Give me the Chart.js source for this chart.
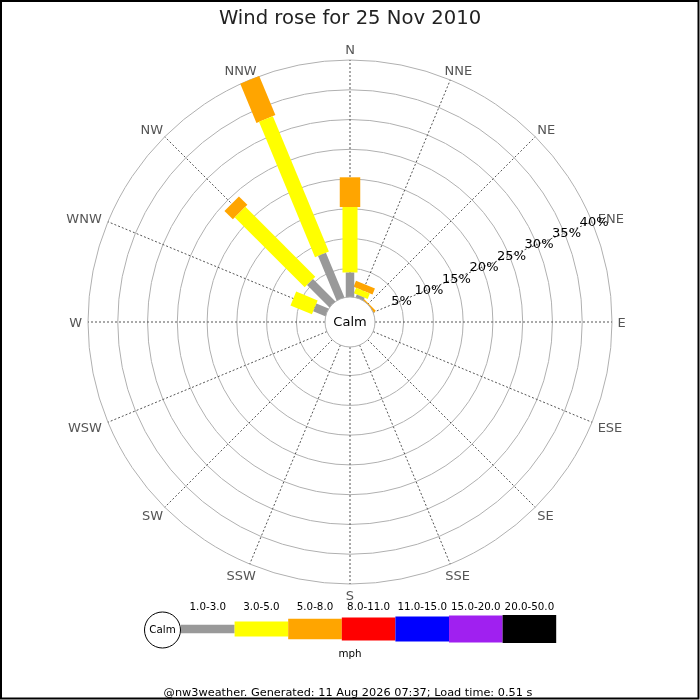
<!DOCTYPE html>
<html>
<head>
<meta charset="utf-8">
<script src="https://cdn.jsdelivr.net/npm/chart.js@4.4.1/dist/chart.umd.min.js"></script>
<style>
  html, body { margin: 0; padding: 0; background: #fff; }
  #wrap { width: 700px; height: 700px; position: relative; }
</style>
</head>
<body>
<div id="wrap"><canvas id="rose"></canvas></div>
<script>
// 16 compass directions, clockwise from north
const directions = ['N','NNE','NE','ENE','E','ESE','SE','SSE','S','SSW','SW','WSW','W','WNW','NW','NNW'];
const speedBins = ['1.0-3.0','3.0-5.0','5.0-8.0','8.0-11.0','11.0-15.0','15.0-20.0','20.0-50.0'];

// % of time per direction, one array per speed bin (mph)
const pct1to3   = [4.3, 0.7, 0,   0, 0, 0, 0, 0, 0, 0, 0, 0, 0, 2.4, 5.5,  8.3];
const pct3to5   = [11.0, 1.0, 0,  0, 0, 0, 0, 0, 0, 0, 0, 0, 0, 3.9, 16.6, 24.6];
const pct5to8   = [5.0, 1.1, 0.4, 0, 0, 0, 0, 0, 0, 0, 0, 0, 0, 0,   2.0,  7.1];
const pct8to11  = [0,   0,   0,   0, 0, 0, 0, 0, 0, 0, 0, 0, 0, 0,   0,    0];
const pct11to15 = [0,   0,   0,   0, 0, 0, 0, 0, 0, 0, 0, 0, 0, 0,   0,    0];
const pct15to20 = [0,   0,   0,   0, 0, 0, 0, 0, 0, 0, 0, 0, 0, 0,   0,    0];
const pct20to50 = [0,   0,   0,   0, 0, 0, 0, 0, 0, 0, 0, 0, 0, 0,   0,    0];

const ringTicks = [5, 10, 15, 20, 25, 30, 35, 40];

const titleText = 'Wind rose for 25 Nov 2010';
const footerText = '@nw3weather. Generated: 11 Aug 2026 07:37; Load time: 0.51 s';

// styles
const binColors = ['#999999', '#ffff00', '#ffa500', '#ff0000', '#0000ff', '#a020f0', '#000000'];
const binWidths = [8.5, 15, 20.5, 23, 25, 27, 28];
const holeRadius = 4;      // empty centre, in % units
const calmPx = 25;
const FONT = 'DejaVu Sans';

const binSeries = [pct1to3, pct3to5, pct5to8, pct8to11, pct11to15, pct15to20, pct20to50];
const outer = holeRadius + ringTicks[ringTicks.length - 1];

function polar(dirIndex, pct) {
  const a = dirIndex * Math.PI / 8;
  const r = holeRadius + pct;
  return { x: r * Math.sin(a), y: r * Math.cos(a) };
}

// each bar segment is a 2-point line, stacked outward by speed bin
const datasets = [];
binSeries.forEach((series, b) => {
  series.forEach((v, d) => {
    if (!v) return;
    let start = 0;
    for (let k = 0; k < b; k++) start += binSeries[k][d];
    datasets.push({
      label: speedBins[b] + ' ' + directions[d],
      data: [polar(d, start), polar(d, start + v)],
      showLine: true,
      borderColor: binColors[b],
      borderWidth: binWidths[b],
      borderCapStyle: 'butt',
      pointRadius: 0
    });
  });
});

const roseGrid = {
  id: 'roseGrid',
  beforeDatasetsDraw(chart) {
    const { ctx, scales: { x, y } } = chart;
    const cx = x.getPixelForValue(0), cy = y.getPixelForValue(0);
    const rad = v => x.getPixelForValue(holeRadius + v) - cx;
    ctx.save();
    ctx.lineWidth = 1;
    ctx.strokeStyle = '#b0b0b0';
    ringTicks.forEach(t => {
      ctx.beginPath();
      ctx.arc(cx, cy, rad(t), 0, Math.PI * 2);
      ctx.stroke();
    });
    ctx.setLineDash([2, 2]);
    ctx.strokeStyle = '#555';
    const rOut = rad(ringTicks[ringTicks.length - 1]);
    directions.forEach((d, i) => {
      const a = i * Math.PI / 8;
      ctx.beginPath();
      ctx.moveTo(cx + Math.sin(a) * calmPx, cy - Math.cos(a) * calmPx);
      ctx.lineTo(cx + Math.sin(a) * rOut, cy - Math.cos(a) * rOut);
      ctx.stroke();
    });
    ctx.setLineDash([]);
    // compass labels
    ctx.font = '13px "' + FONT + '"';
    ctx.fillStyle = '#555';
    ctx.textAlign = 'center';
    ctx.textBaseline = 'middle';
    directions.forEach((d, i) => {
      const a = i * Math.PI / 8;
      const w = ctx.measureText(d).width;
      const rx = rOut + 10 + 0.6 * (w - 9);
      const ry = rOut + 11;
      ctx.fillText(d, cx + Math.sin(a) * rx, cy - Math.cos(a) * ry + 2);
    });
    ctx.restore();
  },
  afterDatasetsDraw(chart) {
    const { ctx, scales: { x, y } } = chart;
    const cx = x.getPixelForValue(0), cy = y.getPixelForValue(0);
    const rad = v => x.getPixelForValue(holeRadius + v) - cx;
    ctx.save();
    // calm circle
    ctx.beginPath();
    ctx.arc(cx, cy, calmPx, 0, Math.PI * 2);
    ctx.fillStyle = '#fff';
    ctx.fill();
    ctx.strokeStyle = '#b0b0b0';
    ctx.lineWidth = 1;
    ctx.stroke();
    ctx.fillStyle = '#000';
    ctx.font = '13px "' + FONT + '"';
    ctx.textAlign = 'center';
    ctx.textBaseline = 'middle';
    ctx.fillText('Calm', cx, cy + 1);
    // ring labels along ENE
    const a = 3 * Math.PI / 8;
    ringTicks.forEach(t => {
      ctx.fillText(t + '%', cx + Math.sin(a) * rad(t) + 2, cy - Math.cos(a) * rad(t) + 0.5);
    });
    ctx.restore();
  },
  afterDraw(chart) {
    const { ctx } = chart;
    ctx.save();
    // speed legend
    const lx = 181, segW = 53.6, ly = 629;
    ctx.beginPath();
    ctx.arc(162.5, 630, 18, 0, Math.PI * 2);
    ctx.fillStyle = '#fff';
    ctx.fill();
    ctx.strokeStyle = '#000';
    ctx.lineWidth = 1;
    ctx.stroke();
    ctx.fillStyle = '#000';
    ctx.font = '10.3px "' + FONT + '"';
    ctx.textAlign = 'center';
    ctx.textBaseline = 'middle';
    ctx.fillText('Calm', 162.5, 630);
    speedBins.forEach((s, i) => {
      ctx.fillStyle = binColors[i];
      ctx.fillRect(lx + i * segW, ly - binWidths[i] / 2, segW, binWidths[i]);
      ctx.fillStyle = '#000';
      ctx.fillText(s, lx + (i + 0.5) * segW, 607);
    });
    ctx.fillText('mph', 350, 654);
    ctx.font = '11.3px "' + FONT + '"';
    ctx.fillText(footerText, 348, 693);
    // frame
    ctx.strokeStyle = '#000';
    ctx.lineWidth = 2;
    ctx.strokeRect(1, 1, 697.5, 697.5);
    ctx.restore();
  }
};

new Chart(document.getElementById('rose'), {
  type: 'scatter',
  data: { datasets },
  options: {
    responsive: true,
    maintainAspectRatio: false,
    animation: false,
    layout: { padding: { left: 88, right: 88, top: 0, bottom: 116 } },
    scales: {
      x: { type: 'linear', min: -outer, max: outer, display: false },
      y: { type: 'linear', min: -outer, max: outer, display: false }
    },
    plugins: {
      legend: { display: false },
      tooltip: { enabled: false },
      title: {
        display: true,
        text: titleText,
        color: '#222',
        font: { family: FONT, size: 19.6, weight: 'normal', lineHeight: 1.2 },
        padding: { top: 7.5, bottom: 28.98 }
      }
    }
  },
  plugins: [roseGrid]
});
</script>
</body>
</html>
